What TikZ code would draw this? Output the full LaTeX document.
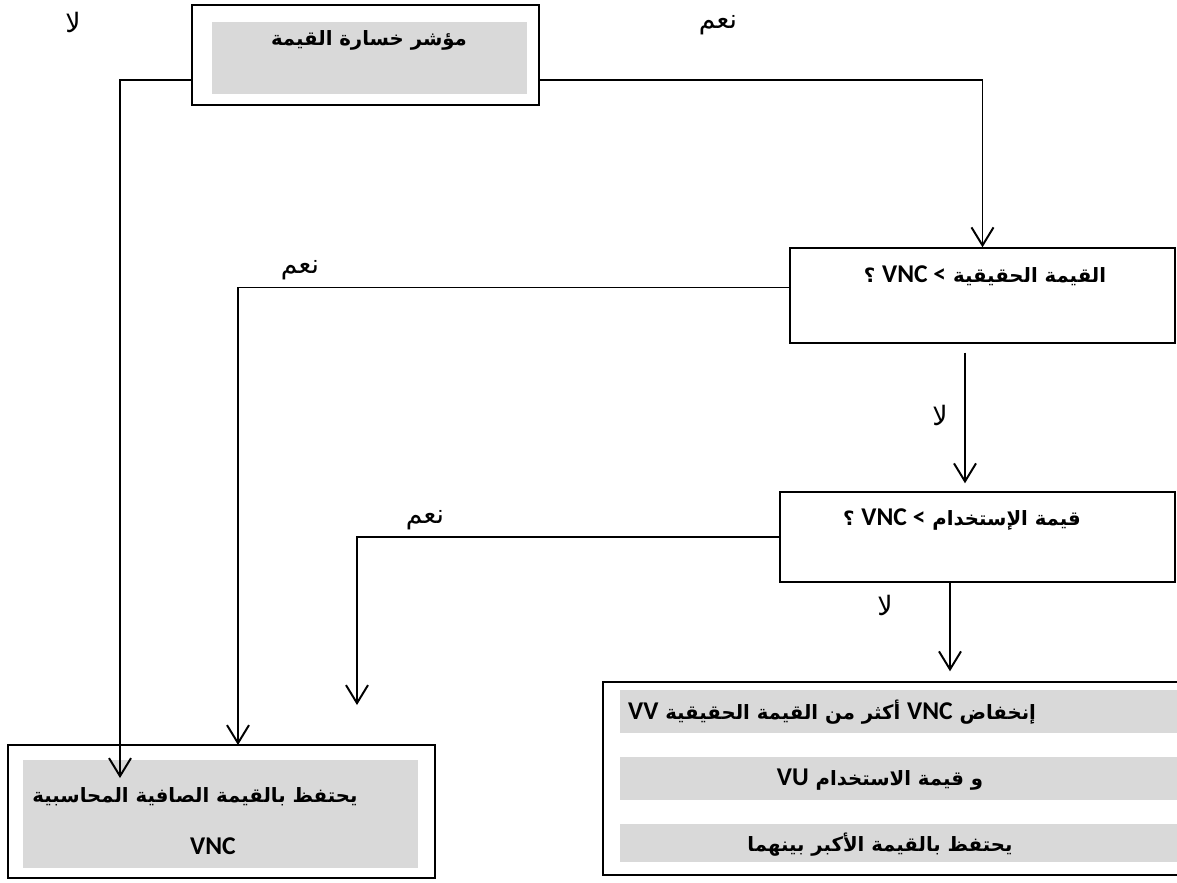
\documentclass[tikz,border=0pt]{standalone}
\usepackage{fontspec}
\usepackage{tikz}
\usetikzlibrary{arrows.meta}
\TeXXeTstate=1
\newfontfamily\arabicfont[Script=Arabic]{DejaVu Sans}
\newfontfamily\latinfont[Scale=1.3,BoldFont={Carlito Bold}]{Carlito}
\definecolor{boxgray}{HTML}{D9D9D9}
\newcommand{\artext}[1]{{\arabicfont\beginR #1\endR}}
\newcommand{\lat}[1]{\beginL{\latinfont\bfseries #1}\endL{}}

\begin{document}
\begin{tikzpicture}[x=0.025cm,y=-0.025cm]
	\tikzstyle{box}=[rectangle,draw,line width=1pt,inner sep=0pt]
	\tikzstyle{fillbox}=[rectangle,fill=boxgray,inner sep=0pt]
	\tikzstyle{question}=[inner sep=0pt,font=\bfseries\fontsize{14}{17}\selectfont]
	\tikzstyle{answer}=[inner sep=0pt,font=\fontsize{19}{22}\selectfont]
	\tikzstyle{flow}=[line width=1.4pt,-{Straight Barb[length=4.5mm,width=5.5mm]}]
	\useasboundingbox (0,0) rectangle (1177,882);
	\node (loss)     at (365.5,55)  [box,minimum width=8.675cm,minimum height=2.5cm] {};
	\node (lossfill) at (369.5,58)  [fillbox,minimum width=7.875cm,minimum height=1.8cm] {};
	\node (losstext) at (369,40)    [question] {\artext{مؤشر خسارة القيمة}};
	\node (fair)     at (982.5,295.5) [box,minimum width=9.625cm,minimum height=2.375cm] {};
	\node (fairtext) at (985,276)   [question] {\artext{القيمة الحقيقية \lat{VNC~<} ؟}};
	\node (use)      at (977.5,537) [box,minimum width=9.875cm,minimum height=2.25cm] {};
	\node (usetext)  at (962,520)   [question] {\artext{قيمة الإستخدام \lat{VNC~<} ؟}};
	\node (keep)     at (221.5,811.5) [box,minimum width=10.675cm,minimum height=3.325cm] {};
	\node (keepfill) at (220.5,814) [fillbox,minimum width=9.875cm,minimum height=2.7cm] {};
	\node (keep1)    at (195,797)   [question] {\artext{يحتفظ بالقيمة الصافية المحاسبية}};
	\node (keep2)    at (213,846)   [question] {\lat{VNC}};
	\node (impair)   at (901.5,778.5) [box,minimum width=14.925cm,minimum height=4.825cm] {};
	\node (bar1)     at (905,711.5) [fillbox,minimum width=14.25cm,minimum height=1.075cm] {};
	\node (bar2)     at (905,778.5) [fillbox,minimum width=14.25cm,minimum height=1.075cm] {};
	\node (bar3)     at (905,842.5) [fillbox,minimum width=14.25cm,minimum height=0.95cm] {};
	\node (impair1)  at (832,712)   [question] {\artext{إنخفاض \lat{VNC} أكثر من القيمة الحقيقية \lat{VV}}};
	\node (impair2)  at (880,780)   [question] {\artext{و قيمة الاستخدام \lat{VU}}};
	\node (impair3)  at (880,845)   [question] {\artext{يحتفظ بالقيمة الأكبر بينهما}};
	\node (no1)  at (73,22)   [answer] {\artext{لا}};
	\node (yes1) at (718,25)  [answer] {\artext{نعم}};
	\node (yes2) at (300,270) [answer] {\artext{نعم}};
	\node (no2)  at (940,415) [answer] {\artext{لا}};
	\node (yes3) at (425,520) [answer] {\artext{نعم}};
	\node (no3)  at (885,605) [answer] {\artext{لا}};
	\coordinate (tipa) at (120,778);
	\coordinate (tipb) at (238,745);
	\coordinate (tipc) at (357,705);
	\draw [flow] ([yshift=-0.625cm]loss.west) -| (tipa);
	\draw [flow] ([yshift=-0.625cm]loss.east) -| (fair.north);
	\draw [flow] ([yshift=0.2cm]fair.west) -| (tipb);
	\draw [flow] ([shift={(-17.5,9)}]fair.south) -- ([shift={(-12.5,-8)}]use.north);
	\draw [flow] (use.west) -| (tipc);
	\draw [flow] ([xshift=-0.6875cm]use.south) -- ([shift={(48.5,-10)}]impair.north);
\end{tikzpicture}
\end{document}
